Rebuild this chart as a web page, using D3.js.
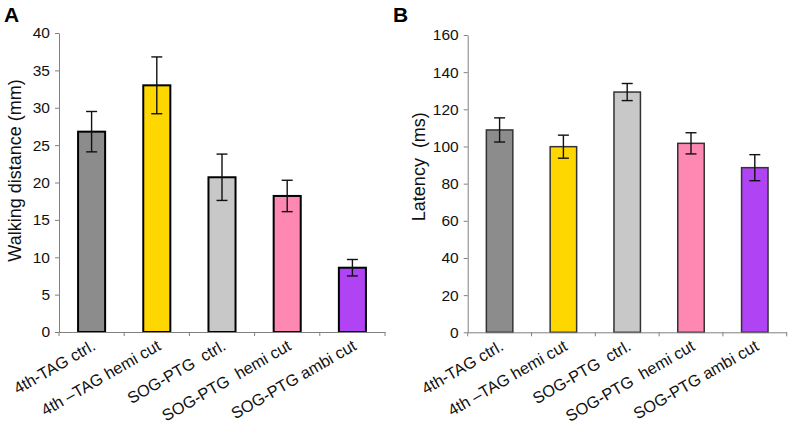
<!DOCTYPE html>
<html><head><meta charset="utf-8">
<script src="https://cdn.jsdelivr.net/npm/d3@7"></script>
<style>body{margin:0;background:#fff}svg{display:block;font-family:"Liberation Sans",Arial,sans-serif}</style>
</head><body>
<svg id="chart" width="792" height="425"></svg>
<script>
const categories = ["4th-TAG ctrl.", "4th \u2013TAG hemi cut", "SOG-PTG  ctrl.", "SOG-PTG  hemi cut", "SOG-PTG ambi cut"];
const colors = ["#8c8c8c", "#ffd700", "#c8c8c8", "#ff88b2", "#b044f5"];
const walkingMeans = [26.8, 33.0, 20.7, 18.2, 8.6];
const walkingErrors = [2.7, 3.8, 3.1, 2.1, 1.1];
const latencyMeans = [108.9, 99.9, 129.3, 101.7, 88.6];
const latencyErrors = [6.5, 6.2, 4.6, 5.7, 7.0];
const walkingTicks = [0, 5, 10, 15, 20, 25, 30, 35, 40];
const latencyTicks = [0, 20, 40, 60, 80, 100, 120, 140, 160];

const svg = d3.select("#chart");

function panel(cfg) {
  const g = svg.append("g");
  const x = d3.scaleBand().domain(categories).range([cfg.x0, cfg.x1]).padding(0);
  const xb = d3.scaleBand().domain(categories).range([cfg.x0, cfg.x1]).paddingInner(0.585).paddingOuter(0.2925);
  const y = d3.scaleLinear().domain([0, cfg.max]).range([cfg.y0, cfg.y1]);

  // bars
  g.selectAll("rect.bar").data(cfg.means).join("rect")
    .attr("x", (d, i) => xb(categories[i]))
    .attr("y", d => y(d))
    .attr("width", xb.bandwidth())
    .attr("height", d => y(0) - y(d))
    .attr("fill", (d, i) => colors[i])
    .attr("stroke", cfg.barStroke)
    .attr("stroke-width", cfg.barStrokeW);

  // error bars
  const eb = g.selectAll("g.err").data(cfg.means).join("g")
    .attr("stroke", "#111").attr("stroke-width", 1.4);
  eb.append("line")
    .attr("x1", (d, i) => x(categories[i]) + x.bandwidth() / 2)
    .attr("x2", (d, i) => x(categories[i]) + x.bandwidth() / 2)
    .attr("y1", (d, i) => y(d + cfg.errs[i]))
    .attr("y2", (d, i) => y(d - cfg.errs[i]));
  [1, -1].forEach(s => {
    eb.append("line")
      .attr("x1", (d, i) => x(categories[i]) + x.bandwidth() / 2 - 5.5)
      .attr("x2", (d, i) => x(categories[i]) + x.bandwidth() / 2 + 5.5)
      .attr("y1", (d, i) => y(d + s * cfg.errs[i]))
      .attr("y2", (d, i) => y(d + s * cfg.errs[i]));
  });

  // y axis
  const ya = g.append("g").attr("transform", `translate(${cfg.x0},0)`)
    .call(d3.axisLeft(y).tickValues(cfg.ticks).tickSize(4).tickSizeOuter(0).tickPadding(5));
  ya.select(".domain").attr("stroke", "#808080");
  ya.selectAll(".tick line").attr("stroke", "#808080");
  ya.selectAll(".tick text").attr("font-size", 15.5).attr("fill", "#111")
    .attr("font-family", "Liberation Sans, Arial, sans-serif");

  // x axis
  const xa = g.append("g").attr("transform", `translate(0,${cfg.y0})`)
    .call(d3.axisBottom(x).tickSize(0).tickFormat(""));
  xa.select(".domain").attr("stroke", "#808080");
  xa.selectAll(".tick").remove();
  const bounds = categories.map(c => x(c)).concat([cfg.x1]);
  g.selectAll("line.xt").data(bounds).join("line")
    .attr("x1", d => d).attr("x2", d => d)
    .attr("y1", cfg.y0).attr("y2", cfg.y0 + 4)
    .attr("stroke", "#808080");

  // category labels
  g.selectAll("text.cat").data(categories).join("text")
    .attr("transform", d => `translate(${x(d) + x.bandwidth() / 2 + 5},${cfg.y0 + 17}) rotate(-30)`)
    .attr("text-anchor", "end")
    .attr("font-size", 16.3)
    .attr("fill", "#111")
    .style("white-space", "pre")
    .text(d => d);

  // y title
  g.append("text")
    .attr("transform", `translate(${cfg.titleX},${(cfg.y0 + cfg.y1) / 2 + cfg.titleDy}) rotate(-90)`)
    .attr("text-anchor", "middle")
    .attr("font-size", 18)
    .attr("fill", "#111")
    .style("white-space", "pre")
    .text(cfg.title);

  // panel letter
  g.append("text").attr("x", cfg.letterX).attr("y", 22)
    .attr("font-size", 21).attr("font-weight", "bold").attr("fill", "#000")
    .text(cfg.letter);
}

panel({x0: 59, x1: 385, y0: 332, y1: 33, max: 40, means: walkingMeans, errs: walkingErrors,
  ticks: walkingTicks, title: "Walking distance (mm)", titleX: 21, titleDy: -12, letter: "A", letterX: 4,
  barStroke: "#000", barStrokeW: 2});
panel({x0: 467.7, x1: 786.7, y0: 332.3, y1: 35, max: 160, means: latencyMeans, errs: latencyErrors,
  ticks: latencyTicks, title: "Latency  (ms)", titleX: 425, titleDy: -17, letter: "B", letterX: 393,
  barStroke: "#333", barStrokeW: 1.5});
</script>
</body></html>
